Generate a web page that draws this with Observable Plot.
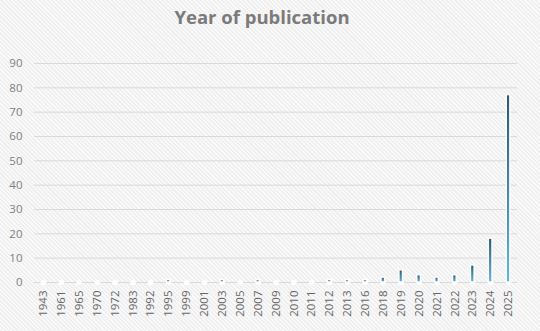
<!DOCTYPE html>
<html>
<head>
<meta charset="utf-8">
<script src="https://cdn.jsdelivr.net/npm/d3@7"></script>
<script src="https://cdn.jsdelivr.net/npm/@observablehq/plot@0.6"></script>
<style>
  html, body { margin: 0; padding: 0; }
  body {
    width: 540px; height: 331px; overflow: hidden;
    background: repeating-linear-gradient(45deg, #efefef 0px, #efefef 1.5px, #f9f9f9 1.5px, #f9f9f9 3px);
    font-family: "Open Sans", sans-serif;
  }
  #title {
    height: 40px; line-height: 34px; text-align: center; padding-right: 16px;
    font-family: "Open Sans", sans-serif; font-weight: 700; font-size: 18.5px; color: #7b7b7b;
  }
</style>
</head>
<body>
<div id="title">Year of publication</div>
<div id="chart"></div>
<script>
const years = ["1943","1961","1965","1970","1972","1983","1992","1995","1999","2001","2003","2005","2007","2009","2010","2011","2012","2013","2016","2018","2019","2020","2021","2022","2023","2024","2025"];
const counts = [0,0,0,0,0,0,0,1,0,0,1,0,1,0,0,0,1,1,1,2,5,3,2,3,7,18,77];
const yTicks = [0,10,20,30,40,50,60,70,80,90];

const data = years.map((y, i) => ({year: y, count: counts[i]}));

const plot = Plot.plot({
  width: 540,
  height: 291,
  marginLeft: 34,
  marginRight: 23,
  marginTop: 23,
  marginBottom: 49,
  style: {background: "transparent", fontFamily: "'Open Sans', sans-serif", fontSize: "11px"},
  x: {domain: years, paddingInner: 0.8, paddingOuter: 0.4, round: false, label: null},
  y: {domain: [0, 90], ticks: yTicks, label: null},
  marks: [
    Plot.gridY(yTicks, {stroke: "#d9d9d9", strokeOpacity: 1, strokeWidth: 1}),
    Plot.axisY({ticks: yTicks, tickSize: 0, tickPadding: 12, fill: "#808080", fontSize: 11.5}),
    Plot.axisX({tickSize: 0, tickPadding: 8, tickRotate: -90, fill: "#666666", fontSize: 11.5}),
    Plot.dot(data, {x: "year", y: () => 0, r: 2.8, fill: "white", stroke: "none"}),
    Plot.barY(data, {x: "year", y: "count", fill: "url(#barGrad)", stroke: "white", strokeWidth: 1.4})
  ]
});

const svg = d3.select(plot);
const defs = svg.insert("defs", ":first-child");
const g = defs.append("linearGradient").attr("id", "barGrad")
  .attr("x1", 0).attr("y1", 0).attr("x2", 0).attr("y2", 1);
g.append("stop").attr("offset", "0%").attr("stop-color", "#2d5874");
g.append("stop").attr("offset", "100%").attr("stop-color", "#5fb6de");

document.getElementById("chart").appendChild(plot);
</script>
</body>
</html>
